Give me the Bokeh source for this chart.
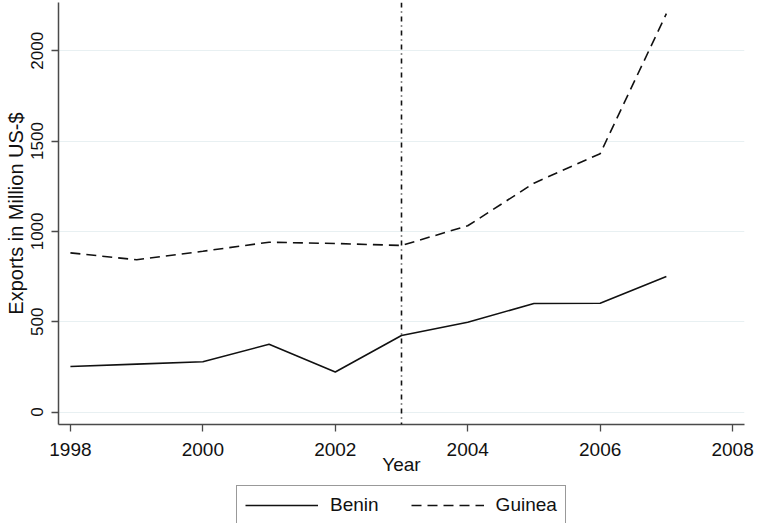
from bokeh.plotting import figure
from bokeh.layouts import column
from bokeh.models import Range1d, Span, Legend, LegendItem, FixedTicker
from bokeh.embed import file_html
from bokeh.resources import INLINE

# Annual exports (million US-$)
years = [1998, 1999, 2000, 2001, 2002, 2003, 2004, 2005, 2006, 2007]
benin = [252, 265, 278, 375, 222, 424, 497, 601, 602, 750]
guinea = [881, 843, 890, 940, 933, 922, 1031, 1267, 1430, 2205]
treatment_year = 2003
x_ticks = [1998, 2000, 2002, 2004, 2006, 2008]
y_ticks = [0, 500, 1000, 1500, 2000]

FONT = "Liberation Sans"
TEXT = "#111111"
AXIS = "#4a4a4a"
INK = "#111111"

# ---- main chart -------------------------------------------------------
p = figure(width=757, height=483, output_backend="svg", toolbar_location=None,
           x_range=Range1d(1997.82, 2008.18), y_range=Range1d(-69, 2267),
           min_border_left=58, min_border_right=13, min_border_top=2,
           min_border_bottom=59)
p.outline_line_color = None
p.background_fill_color = "white"
p.border_fill_color = "white"

p.xgrid.visible = False
p.ygrid.grid_line_color = "#e8f0f2"
p.ygrid.grid_line_width = 1.2

p.line(years, benin, line_color=INK, line_width=1.6)
p.line(years, guinea, line_color=INK, line_width=1.6, line_dash="10 6")

p.add_layout(Span(location=treatment_year, dimension="height",
                  line_color=INK, line_width=1.6, line_dash="5 4 1 4"))

for ax in (p.xaxis[0], p.yaxis[0]):
    ax.axis_line_color = AXIS
    ax.axis_line_width = 1.5
    ax.major_tick_line_color = AXIS
    ax.major_tick_line_width = 1.3
    ax.major_tick_out = 7
    ax.major_tick_in = 0
    ax.minor_tick_line_color = None
    ax.major_label_text_font = FONT
    ax.major_label_text_color = TEXT
    ax.axis_label_text_font = FONT
    ax.axis_label_text_color = TEXT
    ax.axis_label_text_font_style = "normal"

p.xaxis.ticker = FixedTicker(ticks=x_ticks)
p.xaxis.major_label_text_font_size = "19px"
p.xaxis.major_label_standoff = 11
p.xaxis.axis_label = "Year"
p.xaxis.axis_label_text_font_size = "19px"
p.xaxis.axis_label_standoff = -5

p.yaxis.ticker = FixedTicker(ticks=y_ticks)
p.yaxis.major_label_orientation = "vertical"
p.yaxis.major_label_text_font_size = "17px"
p.yaxis.major_label_standoff = 8
p.yaxis.axis_label = "Exports in Million US-$"
p.yaxis.axis_label_text_font_size = "20px"
p.yaxis.axis_label_standoff = 2

# ---- legend strip under the chart ---------------------------------------
key = figure(width=757, height=40, output_backend="svg", toolbar_location=None,
             x_range=Range1d(0, 1), y_range=Range1d(0, 1),
             x_axis_type=None, y_axis_type=None,
             min_border_left=0, min_border_right=0, min_border_top=0,
             min_border_bottom=0)
key.outline_line_color = None
key.xgrid.visible = False
key.ygrid.visible = False
key.border_fill_color = "white"
key.background_fill_color = "white"

# series proxies (outside this strip's ranges) that carry the legend styling
k_benin = key.line(years, benin, line_color=INK, line_width=1.6)
k_guinea = key.line(years, guinea, line_color=INK, line_width=1.6,
                    line_dash="10 6")

legend = Legend(items=[LegendItem(label="Benin", renderers=[k_benin]),
                       LegendItem(label="Guinea", renderers=[k_guinea])],
                orientation="horizontal", location=(178, -2),
                glyph_width=73, glyph_height=20, label_standoff=12,
                spacing=32, padding=8, margin=0,
                label_text_font=FONT, label_text_font_size="19px",
                label_text_color=TEXT, label_height=20,
                border_line_color="#333333", border_line_width=1.3,
                background_fill_alpha=1.0)
key.add_layout(legend, "center")

layout = column(p, key, spacing=0)
open("out.html", "w").write(file_html(layout, INLINE))
